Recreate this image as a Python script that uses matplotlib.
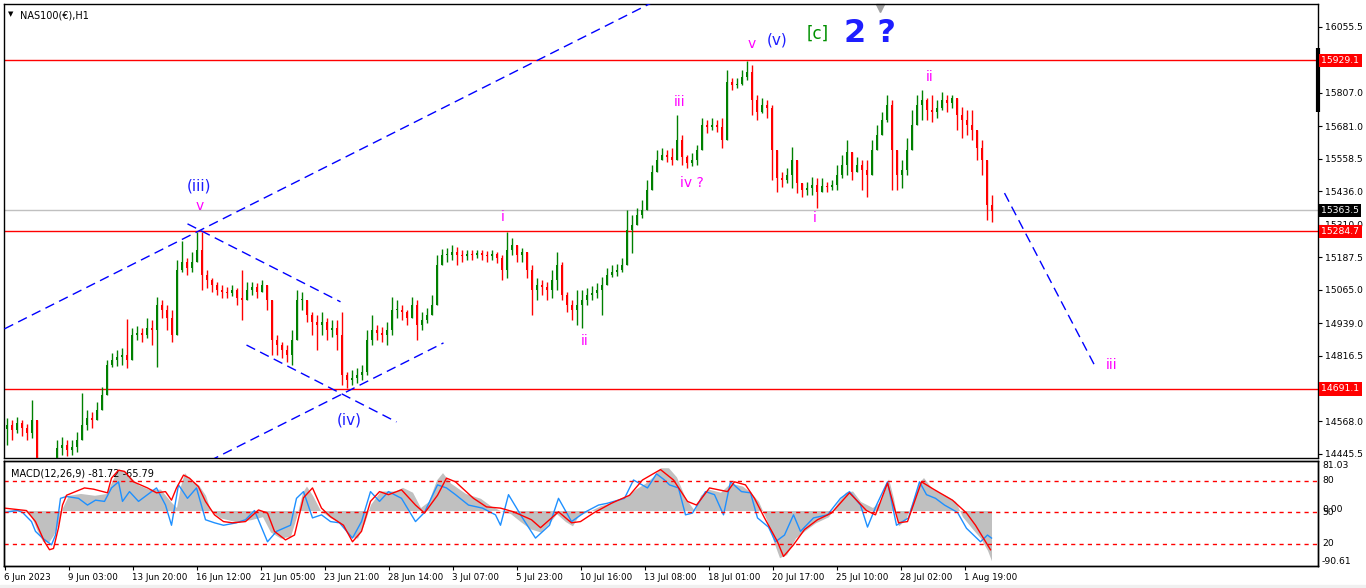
import matplotlib
matplotlib.use("Agg")
import matplotlib.pyplot as plt
import matplotlib.transforms as mtransforms
from matplotlib.patches import Rectangle

plt.rcParams['font.family'] = ['DejaVu Sans']

# NAS100 H1, one candle here = 5 hourly bars
BAR = 5
first_open = 14540
closes = [
    14555, 14536, 14562, 14543, 14525, 14574, 14385, 14366, 14385, 14393,
    14468, 14479, 14461, 14472, 14498, 14555, 14581, 14574, 14611, 14668,
    14781, 14800, 14811, 14819, 14800, 14894, 14902, 14894, 14920, 14913,
    15007, 14988, 14958, 14894, 15139, 15169, 15147, 15169, 15215, 15120,
    15101, 15083, 15064, 15056, 15052, 15064, 15034, 15026, 15064, 15075,
    15056, 15083, 15026, 14875, 14856, 14838, 14819, 14875, 15026, 15026,
    14970, 14943, 14932, 14943, 14913, 14920, 14894, 14743, 14724, 14732,
    14743, 14755, 14875, 14913, 14902, 14894, 14913, 14988, 14988, 14981,
    14958, 15007, 14932, 14951, 14970, 15007, 15158, 15196, 15196, 15207,
    15196, 15192, 15199, 15196, 15203, 15196, 15192, 15199, 15184, 15139,
    15215, 15233, 15196, 15207, 15139, 15064, 15083, 15075, 15064, 15101,
    15158, 15045, 15007, 14988, 15007, 15026, 15045, 15052, 15064, 15083,
    15120, 15132, 15139, 15158, 15290, 15309, 15346, 15365, 15441, 15509,
    15554, 15573, 15565, 15554, 15629, 15565, 15542, 15554, 15592, 15686,
    15678, 15686, 15678, 15629, 15848, 15837, 15840, 15867, 15886, 15780,
    15735, 15761, 15750, 15592, 15486, 15478, 15497, 15554, 15467, 15441,
    15448, 15460, 15433, 15456, 15452, 15460, 15497, 15535, 15584, 15509,
    15535, 15516, 15497, 15592, 15648, 15705, 15761, 15592, 15497, 15516,
    15592, 15686, 15761, 15780, 15742, 15735, 15750, 15780, 15769, 15788,
    15723, 15705, 15686, 15667, 15599, 15554, 15384, 15362,
]
highs = [
    14581, 14574, 14585, 14574, 14559, 14649, 14555, 14404, 14415, 14423,
    14498, 14510, 14498, 14498, 14528, 14675, 14611, 14604, 14641, 14698,
    14800, 14826, 14838, 14845, 14954, 14920, 14928, 14920, 14958, 14951,
    15037, 15026, 15007, 14988, 15177, 15248, 15184, 15207, 15282, 15282,
    15139, 15109, 15094, 15083, 15075, 15083, 15071, 15139, 15094, 15094,
    15090, 15101, 15083, 15026, 14894, 14868, 14856, 14913, 15064, 15056,
    15026, 14981, 14970, 14981, 14958, 14951, 14951, 14981, 14755, 14762,
    14770, 14781, 14913, 14970, 14932, 14924, 14943, 15037, 15026, 15007,
    14988, 15037, 15026, 14981, 14996, 15045, 15196, 15218, 15222, 15233,
    15226, 15215, 15215, 15215, 15215, 15215, 15211, 15215, 15207, 15196,
    15282, 15260, 15233, 15222, 15196, 15158, 15109, 15101, 15094, 15139,
    15207, 15169, 15056, 15026, 15064, 15064, 15071, 15079, 15090, 15113,
    15147, 15158, 15162, 15184, 15365, 15346, 15373, 15403, 15478, 15535,
    15592, 15599, 15592, 15599, 15723, 15648, 15573, 15580, 15610, 15712,
    15705, 15712, 15705, 15712, 15893, 15863, 15863, 15893, 15927, 15912,
    15799, 15788, 15780, 15761, 15535, 15509, 15524, 15603, 15535, 15467,
    15471, 15490, 15486, 15486, 15471, 15478, 15535, 15573, 15629, 15573,
    15565, 15554, 15554, 15629, 15686, 15735, 15799, 15780, 15554, 15554,
    15637, 15742, 15799, 15818, 15788, 15799, 15780, 15810, 15799, 15799,
    15780, 15754, 15742, 15742, 15648, 15629, 15535, 15422,
]
lows = [
    14479, 14498, 14525, 14513, 14498, 14506, 14347, 14329, 14347, 14355,
    14430, 14442, 14438, 14442, 14453, 14498, 14536, 14543, 14574, 14619,
    14668, 14773, 14777, 14781, 14770, 14856, 14875, 14868, 14883, 14856,
    14773, 14958, 14913, 14868, 14894, 15132, 15120, 15132, 15169, 15064,
    15071, 15056, 15045, 15034, 15034, 15041, 15007, 14951, 15026, 15045,
    15034, 15056, 14988, 14819, 14819, 14807, 14792, 14781, 14875, 14988,
    14943, 14894, 14838, 14894, 14875, 14887, 14838, 14706, 14694, 14706,
    14713, 14724, 14743, 14856, 14875, 14868, 14856, 14894, 14958, 14951,
    14932, 14970, 14875, 14913, 14939, 14970, 15026, 15158, 15169, 15177,
    15158, 15169, 15177, 15177, 15184, 15177, 15169, 15177, 15166, 15101,
    15109, 15196, 15169, 15169, 15109, 14970, 15026, 15045, 15026, 15034,
    15064, 15026, 14981, 14951, 14932, 14920, 15007, 15026, 15034, 14970,
    15090, 15113, 15116, 15132, 15158, 15203, 15309, 15335, 15384, 15441,
    15509, 15554, 15546, 15535, 15554, 15535, 15524, 15531, 15535, 15592,
    15656, 15667, 15659, 15599, 15629, 15818, 15825, 15837, 15855, 15723,
    15705, 15731, 15712, 15478, 15433, 15452, 15467, 15448, 15429, 15414,
    15422, 15422, 15373, 15433, 15433, 15441, 15441, 15486, 15497, 15478,
    15509, 15441, 15414, 15497, 15592, 15648, 15697, 15441, 15441, 15448,
    15497, 15592, 15686, 15705, 15705, 15697, 15712, 15742, 15735, 15750,
    15667, 15637, 15648, 15629, 15554, 15497, 15328, 15320,
]

level_lines = [15929.1, 15284.7, 14691.1]
bid = 15363.5
price_ticks = [16055.5, 15807.0, 15681.0, 15558.5, 15436.0, 15310.0,
               15187.5, 15065.0, 14939.0, 14816.5, 14568.0, 14445.5]

date_hours = [0, 64, 128, 192, 256, 320, 384, 448, 512, 576, 640, 704,
              768, 832, 896, 960]
date_labels = ["6 Jun 2023", "9 Jun 03:00", "13 Jun 20:00", "16 Jun 12:00",
               "21 Jun 05:00", "23 Jun 21:00", "28 Jun 14:00", "3 Jul 07:00",
               "5 Jul 23:00", "10 Jul 16:00", "13 Jul 08:00", "18 Jul 01:00",
               "20 Jul 17:00", "25 Jul 10:00", "28 Jul 02:00", "1 Aug 19:00"]

# MACD window
hist_h = [0, 10, 20, 27, 32, 38, 44, 49, 54, 58, 64, 76, 90, 102, 108, 114, 120,
          126, 134, 144, 156, 166, 172, 176, 180, 186, 194, 201, 206, 216, 231,
          246, 258, 266, 276, 286, 292, 298, 302, 308, 316, 326, 336, 346, 353,
          360, 366, 376, 391, 398, 408, 416, 424, 432, 438, 446, 461, 476, 486,
          496, 506, 516, 526, 536, 545, 552, 561, 568, 574, 586, 596, 611, 621,
          631, 641, 648, 656, 664, 672, 681, 690, 696, 704, 716, 726, 738, 746,
          754, 762, 769, 775, 782, 791, 801, 811, 824, 834, 841, 848, 856, 868,
          876, 884, 889, 894, 901, 908, 914, 919, 928, 941, 951, 958, 968, 976,
          983, 987]
hist_v = [0, 2, 0, -10, -30, -50, -52, -40, -20, 5, 25, 28, 25, 28, 50, 68, 65,
          55, 42, 35, 35, 15, 5, 40, 62, 50, 42, 25, 0, -12, -18,
          -15, -10, -35, -45, -42, -10, 30, 40, 25, 0, -12, -20, -42, -45,
          -20, 10, 32, 32, 38, 30, 5, 15, 50, 62, 45, 28, 20, 8,
          0, -5, -18, -30, -35, -20, -5, -18, -25, -8, 0, 8, 15, 22,
          35, 45, 55, 70, 70, 55, 20, 0, 25, 35, 30, 45, 40, 30,
          15, -15, -50, -77, -72, -45, -32, -20, -10, 15, 30, 32, 15, 5,
          15, 52, 20, -25, -15, 15, 45, 54, 35, 25, 15, -10, -30, -45,
          -65, -82]
sig_h = [0, 22, 31, 40, 45, 49, 54, 58, 62, 71, 80, 89, 103, 107, 114, 120, 129,
         143, 152, 161, 167, 172, 179, 185, 194, 201, 210, 219, 228, 241, 254,
         263, 270, 281, 290, 299, 308, 317, 326, 339, 348, 357, 366, 375, 384,
         397, 411, 420, 433, 442, 451, 469, 482, 496, 509, 527, 536, 554, 567,
         576, 589, 607, 625, 638, 656, 669, 683, 692, 705, 723, 730, 741, 750,
         760, 773, 779, 789, 800, 813, 827, 845, 862, 871, 883, 894, 903, 917,
         930, 948, 962, 971, 986]
sig_v = [4, 0, -18, -51, -64, -62, -28, 9, 25, 31, 37, 35, 29, 53, 66, 64, 47,
         37, 29, 31, 17, 37, 58, 53, 39, 15, -7, -18, -20, -18, 1,
         -4, -34, -48, -40, 21, 37, 4, -10, -24, -51, -34, 15, 31, 26,
         34, 9, -4, 25, 53, 47, 20, 6, 4, -2, -15, -28, -2, -20,
         -18, -4, 12, 25, 50, 67, 50, 15, 9, 37, 31, 47, 42, 20,
         -12, -51, -75, -56, -31, -15, -4, 29, 0, -7, 45, -20, -18, 47,
         34, 17, -4, -24, -64]
blue_h = [0, 13, 18, 27, 31, 38, 47, 51, 56, 62, 74, 83, 91, 100, 107, 114, 118,
          125, 134, 143, 152, 161, 167, 174, 183, 192, 201, 210, 219, 232, 241,
          250, 263, 272, 286, 292, 299, 308, 317, 326, 335, 348, 357, 366, 375,
          384, 397, 411, 420, 433, 442, 451, 464, 478, 491, 496, 504, 518, 531,
          545, 554, 567, 580, 594, 603, 620, 629, 643, 652, 660, 665, 674, 681,
          688, 701, 710, 719, 726, 737, 746, 753, 764, 771, 780, 789, 796, 809,
          823, 836, 845, 856, 863, 872, 883, 892, 904, 915, 922, 931, 940, 953,
          962, 976, 983, 987]
blue_v = [-3, 0, -3, -18, -34, -45, -56, -40, 20, 23, 20, 9, 17, 15, 37, 47, 15,
          31, 15, 26, 37, 9, -24, 42, 20, 37, -15, -20, -24, -20, -15,
          0, -51, -34, -24, 20, 31, -12, -7, -18, -20, -45, -18, 31, 15,
          31, 20, -18, -3, 42, 37, 26, 9, 4, -7, -24, 26, -12, -45,
          -24, 20, -18, -3, 9, 12, 20, 50, 37, 60, 50, 42, 37, -7,
          -4, 31, 26, -7, 47, 31, 29, -12, -27, -51, -40, -7, -34, -12,
          -7, 20, 31, 9, -27, 9, 47, -24, -12, 47, 26, 20, 9, -3,
          -29, -51, -40, -45]
macd_levels = [80, 50, 20]

# wave labels: text, hour, price, colour, size
GREEN, RED = '#008000', '#FF0000'
BLUE, MAG, LGREEN = '#1E1EFF', '#FF00FF', '#009000'
wave_labels = [
    ("(iii)", 195, 15456, BLUE, 11, 'normal'),
    ("v", 195, 15382, MAG, 10, 'normal'),
    ("(iv)", 345, 14574, BLUE, 11, 'normal'),
    ("i", 498, 15339, MAG, 10, 'normal'),
    ("ii", 580, 14870, MAG, 10, 'normal'),
    ("iii", 675, 15772, MAG, 10, 'normal'),
    ("iv ?", 687, 15467, MAG, 10, 'normal'),
    ("v", 747, 15991, MAG, 10, 'normal'),
    ("(v)", 773, 16006, BLUE, 11, 'normal'),
    ("[c]", 813, 16029, LGREEN, 12, 'normal'),
    ("2 ?", 865, 16029, BLUE, 23, 'bold'),
    ("i", 810, 15335, MAG, 10, 'normal'),
    ("ii", 925, 15867, MAG, 10, 'normal'),
    ("iii", 1107, 14781, MAG, 10, 'normal'),
]
# drawn trend lines: (hour0, price0, hour1, price1)
trend_lines = [
    (0, 14917, 700, 16247),
    (205, 14419, 439, 14864),
    (183, 15313, 336, 15019),
    (242, 14856, 392, 14566),
    (1000, 15429, 1091, 14773),
]

W, H = 1366, 588
fig = plt.figure(figsize=(W / 100, H / 100), dpi=100)
fig.patch.set_facecolor('white')


def box(l, t, r, b):
    return [l / W, 1 - b / H, (r - l) / W, (b - t) / H]


ax = fig.add_axes(box(4, 4, 1318, 458))
axm = fig.add_axes(box(4, 461, 1318, 566), sharex=ax)
axs = axm.twinx()

ax.set_xlim(-0.5, 1313.5)
ax.set_ylim(14430, 16142)

# candles
opens = [first_open] + closes[:-1]
xs = [BAR * k + BAR / 2 for k in range(len(closes))]
cols = [GREEN if c >= o else RED for o, c in zip(opens, closes)]
his = [max(h, o, c) for h, o, c in zip(highs, opens, closes)]
los = [min(l, o, c) for l, o, c in zip(lows, opens, closes)]
ax.vlines(xs, los, his, colors=cols, lw=1.0, zorder=3)
ax.bar(xs, [max(abs(c - o), 3) for o, c in zip(opens, closes)],
       bottom=[min(o, c) for o, c in zip(opens, closes)],
       width=2.1, color=cols, lw=0, zorder=3)

for lv in level_lines:
    ax.axhline(lv, color=RED, lw=1, zorder=2)
ax.axhline(bid, color='#C0C0C0', lw=1, zorder=2)

for h0, p0, h1, p1 in trend_lines:
    ax.plot([h0, h1], [p0, p1], color='#0000FF', lw=1, dashes=(7, 4), zorder=4)

for txt, hx, py, c, fs, fw in wave_labels:
    ax.text(hx, py, txt, color=c, fontsize=fs, fontweight=fw,
            ha='center', va='center', zorder=5)

ax.text(0.003, 0.985, "\u25bc", transform=ax.transAxes, fontsize=5,
        va='top', ha='left')
ax.text(0.012, 0.985, "NAS100(\u20ac),H1", transform=ax.transAxes,
        fontsize=7, va='top', ha='left')
ax.plot([875], [0.992], marker='v', color='#A0A0A0', markersize=6,
        transform=mtransforms.blended_transform_factory(ax.transData, ax.transAxes),
        clip_on=False)

# price scale
ax.yaxis.tick_right()
ax.set_yticks(price_ticks)
ax.set_yticklabels([f"{p:.1f}" for p in price_ticks])
ax.tick_params(axis='y', length=3, labelsize=6.7, pad=2)
ax.tick_params(axis='x', bottom=False, labelbottom=False)
tr = mtransforms.blended_transform_factory(ax.transAxes, ax.transData)
for lv in level_lines:
    ax.text(1.0025, lv, f"{lv:.1f}", transform=tr, color='white', fontsize=6.7,
            va='center', ha='left', zorder=6,
            bbox=dict(boxstyle='square,pad=0.25', fc=RED, ec='none'))
ax.text(1.0025, bid, f"{bid:.1f}", transform=tr, color='white', fontsize=6.7,
        va='center', ha='left', zorder=6,
        bbox=dict(boxstyle='square,pad=0.25', fc='black', ec='none'))
ax.plot([1, 1], [15976, 15735], transform=tr, color='black', lw=3,
        clip_on=False, solid_capstyle='butt')

# MACD window
axm.set_ylim(-90.61, 81.03)
axs.set_ylim(-1, 99)
axm.fill_between(hist_h, 0, hist_v, color='#C0C0C0', lw=0, zorder=1)
axm.plot(blue_h, blue_v, color='#1E90FF', lw=1, zorder=3)
axm.plot(sig_h, sig_v, color=RED, lw=1, zorder=4)
for lv in macd_levels:
    axs.axhline(lv, color=RED, lw=1, dashes=(3, 3))
axm.set_yticks([])
axs.set_yticks([])
axm.text(0.005, 0.93, "MACD(12,26,9) -81.72 -65.79", transform=axm.transAxes,
         fontsize=7, va='top', ha='left')
trm = mtransforms.blended_transform_factory(axm.transAxes, axm.transData)
trs = mtransforms.blended_transform_factory(axs.transAxes, axs.transData)
axm.text(1.003, 1.0, "81.03", transform=axm.transAxes, fontsize=6.7, va='top')
axm.text(1.003, 0.0, "-90.61", transform=axm.transAxes, fontsize=6.7, va='bottom')
axm.text(1.003, 1.5, "0.00", transform=trm, fontsize=6.7, va='center')
for lv in macd_levels:
    axs.text(1.003, lv, str(lv), transform=trs, fontsize=6.7, va='center')

axm.set_xticks(date_hours)
axm.set_xticklabels(date_labels)
axm.tick_params(axis='x', length=3, labelsize=6.3, pad=2)
for t in axm.get_xticklabels():
    t.set_ha('left')

for a in (ax, axm, axs):
    for s in a.spines.values():
        s.set_color('black')
        s.set_linewidth(1)

fig.patches.append(Rectangle((0, 0), 1, 3 / H, transform=fig.transFigure,
                             color='#F0F0F0', zorder=0))

fig.savefig("out.png", dpi=100)
